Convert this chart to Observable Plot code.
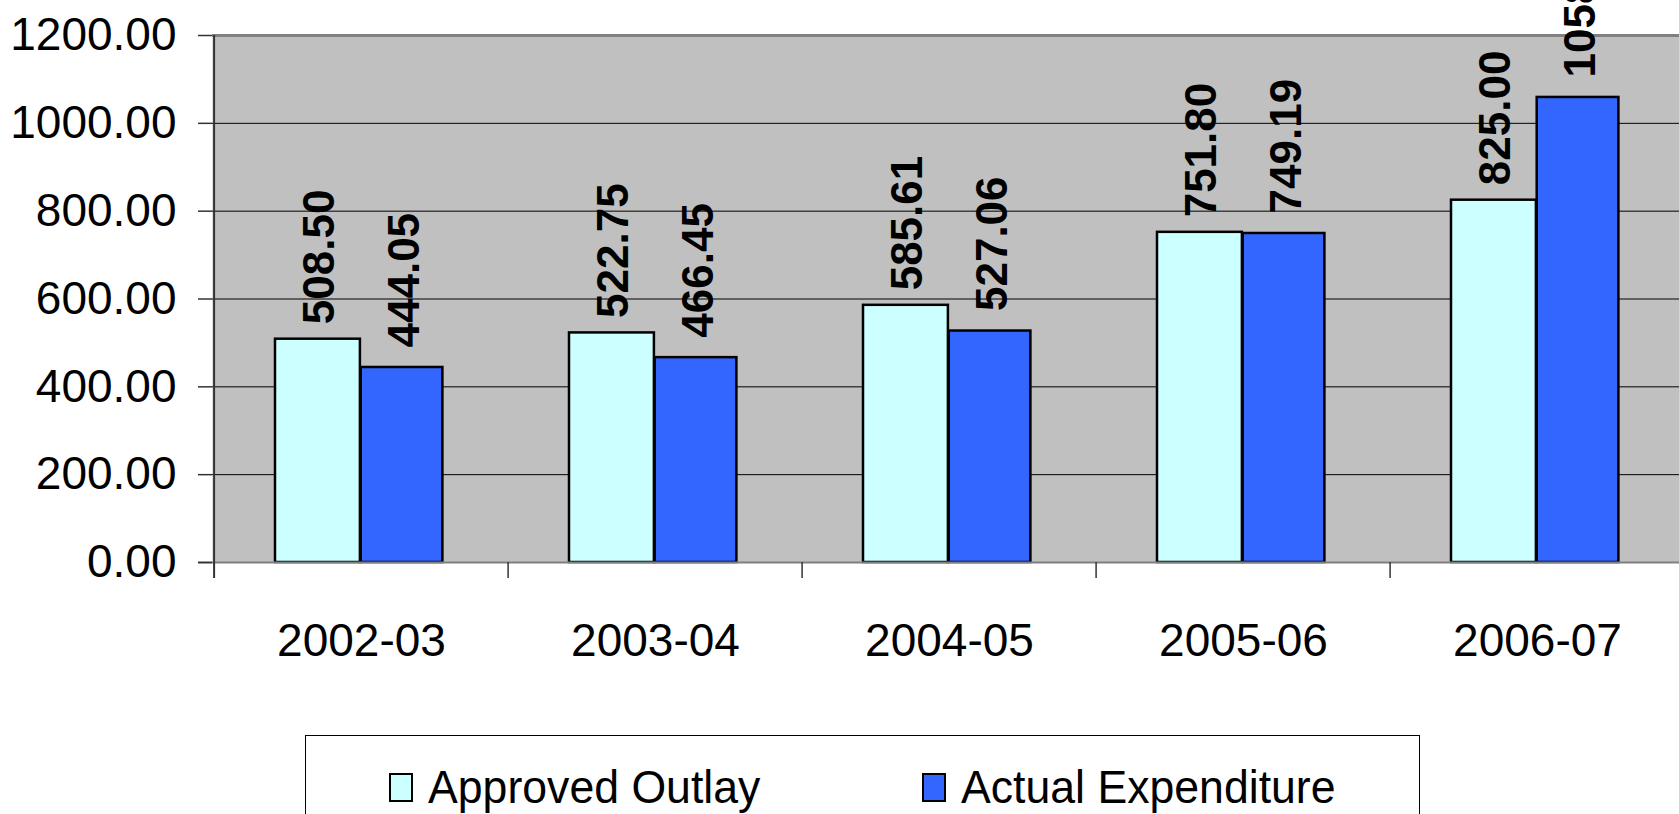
<!DOCTYPE html>
<html>
<head>
<meta charset="utf-8">
<script src="https://cdn.jsdelivr.net/npm/d3@7"></script>
<script src="https://cdn.jsdelivr.net/npm/@observablehq/plot@0.6"></script>
<style>
  html, body { margin: 0; padding: 0; background: white; overflow: hidden; }
  body { width: 1679px; height: 814px; position: relative; font-family: "Liberation Sans", Arial, sans-serif; }
  #chart svg { display: block; overflow: hidden; }
  #legend { position: absolute; left: 305px; top: 735px; width: 1115px; height: 120px; border: 1px solid #000; box-sizing: border-box; background: white; }
  .sw { position: absolute; top: 37px; width: 24px; height: 29px; box-sizing: border-box; border: 2.5px solid #000; }
  .lt { position: absolute; top: 28px; font-size: 46px; line-height: 46px; color: #000; white-space: nowrap; transform: scaleX(0.97); transform-origin: left center; }
</style>
</head>
<body>
<div id="chart"></div>
<div id="legend">
  <div class="sw" style="left:83px;background:#CCFFFF"></div>
  <div class="lt" style="left:122px">Approved Outlay</div>
  <div class="sw" style="left:616px;background:#3366FF"></div>
  <div class="lt" style="left:655px">Actual Expenditure</div>
</div>
<script>
const years = ["2002-03", "2003-04", "2004-05", "2005-06", "2006-07"];
const approvedOutlay = [508.50, 522.75, 585.61, 751.80, 825.00];
const actualExpenditure = [444.05, 466.45, 527.06, 749.19, 1058.96];
const yTicks = [0, 200, 400, 600, 800, 1000, 1200];

const rows = years.map((year, i) => ({year, approved: approvedOutlay[i], actual: actualExpenditure[i]}));

const W = 1679, H = 730;
const mL = 212, mR = -7, mT = 35, mB = 168;
const bw = (W - mL - mR) / years.length;
const plotH = H - mT - mB;

const chart = Plot.plot({
  width: W,
  height: H,
  marginLeft: mL,
  marginRight: mR,
  marginTop: mT,
  marginBottom: mB,
  style: {fontFamily: "'Liberation Sans', Arial, sans-serif", fontSize: "46px", background: "transparent", color: "#000"},
  x: {type: "band", domain: years, padding: 0, label: null},
  y: {domain: [0, 1200], label: null},
  marks: [
    Plot.frame({fill: "#C0C0C0", stroke: null}),
    Plot.gridY({ticks: [200, 400, 600, 800, 1000], stroke: "#000", strokeOpacity: 1, strokeWidth: 1}),
    Plot.ruleY([1200], {stroke: "#808080", strokeWidth: 3}),
    Plot.barY(rows, {x: "year", y: "approved", fill: "#CCFFFF", stroke: "#000", strokeWidth: 2.5, insetLeft: 61, insetRight: bw - 146.7}),
    Plot.barY(rows, {x: "year", y: "actual", fill: "#3366FF", stroke: "#000", strokeWidth: 2.5, insetLeft: 146.7, insetRight: 65.6}),
    Plot.ruleY([0], {stroke: "#808080", strokeWidth: 2, insetLeft: -14}),
    Plot.ruleX([years[0]], {x: d => d, dx: -bw / 2, stroke: "#333", strokeWidth: 2, insetBottom: -16}),
    Plot.ruleX(years.slice(1), {x: d => d, dx: -bw / 2, stroke: "#333", strokeWidth: 1.5, insetTop: plotH, insetBottom: -16}),
    Plot.axisY({ticks: yTicks, tickFormat: d => d.toFixed(2), tickSize: 14, tickPadding: 22, fontSize: 46, stroke: "#333", strokeWidth: 1.5, label: null}),
    Plot.axisX({tickSize: 0, tickPadding: 61, fontSize: 46, label: null}),
    Plot.text(rows, {x: "year", y: "approved", text: d => d.approved.toFixed(2), rotate: -90, textAnchor: "start", dx: -42, dy: -15, fontWeight: "bold", fontSize: 44, fill: "#000"}),
    Plot.text(rows, {x: "year", y: "actual", text: d => d.actual.toFixed(2), rotate: -90, textAnchor: "start", dx: 43, dy: -20, fontWeight: "bold", fontSize: 44, fill: "#000"})
  ]
});
document.getElementById("chart").appendChild(chart);
</script>
</body>
</html>
